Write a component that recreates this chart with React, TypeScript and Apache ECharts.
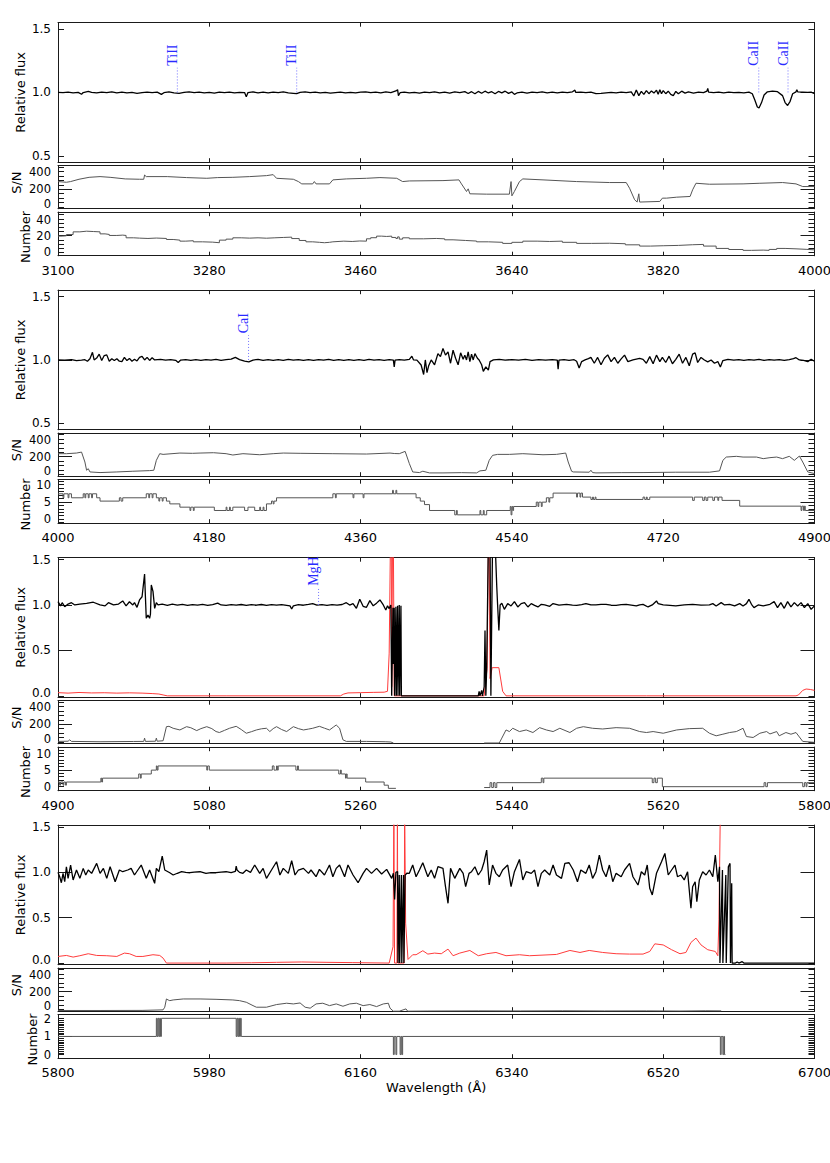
import React, { useEffect, useRef } from "react";
import * as echarts from "echarts";

// ---------------- axis ticks / labels ----------------
const PANEL_X: number[][] = [[3100, 4000], [4000, 4900], [4900, 5800], [5800, 6700]];
const X_TICKS: number[][] = [
  [3100, 3280, 3460, 3640, 3820, 4000],
  [4000, 4180, 4360, 4540, 4720, 4900],
  [4900, 5080, 5260, 5440, 5620, 5800],
  [5800, 5980, 6160, 6340, 6520, 6700],
];
const FLUX_LABELS_UPPER = [0.5, 1.0, 1.5];
const FLUX_LABELS_LOWER = [0.0, 0.5, 1.0, 1.5];
const SN_LABELS = [0, 200, 400];
const NUM_LABELS: number[][] = [[0, 20, 40], [0, 5, 10], [0, 5, 10], [0, 1, 2]];

// ---------------- line identifications ----------------
const LINE_IDS = [
  { name: "TiII", wl: 3242, panel: 0 },
  { name: "TiII", wl: 3384, panel: 0 },
  { name: "CaII", wl: 3933.7, panel: 0 },
  { name: "CaII", wl: 3968.5, panel: 0 },
  { name: "CaI", wl: 4226.7, panel: 1 },
  { name: "MgH", wl: 5210, panel: 2 },
];

// ---------------- panel 1 : 3100-4000 ----------------
const flux1: any[] = [
  [3100,1.0],[3106,0.998],[3112,1.002],[3118,0.997],[3124,1.001],[3128,0.986],[3130,0.999],[3136,1.008],[3140,1.0],[3146,0.996],[3152,1.003],[3158,0.998],[3164,1.005],[3170,0.997],[3176,1.002],[3182,0.996],[3188,1.0],[3194,0.993],[3200,0.999],[3206,1.003],[3212,0.998],[3218,1.002],[3223,0.985],[3226,0.998],[3232,1.004],[3238,0.996],[3244,0.993],[3250,1.0],[3256,1.005],[3262,0.998],[3268,1.003],[3274,0.997],[3280,1.001],[3286,0.995],[3292,1.003],[3298,0.998],[3304,1.002],[3310,0.996],[3316,1.001],[3322,0.999],[3324,0.965],[3326,0.999],[3332,1.004],[3338,0.997],[3344,1.002],[3350,0.996],[3356,1.003],[3362,0.999],[3368,1.004],[3374,0.997],[3380,0.993],[3384,0.99],[3388,1.0],[3394,1.005],[3400,0.998],[3406,1.002],[3412,0.996],[3418,1.0],[3424,0.995],[3430,0.999],[3436,1.003],[3442,0.997],[3448,1.001],[3454,0.996],[3460,1.002],[3466,1.005],[3472,0.998],[3478,1.003],[3484,0.997],[3490,1.004],[3496,0.998],[3502,1.012],[3504,1.022],[3505,0.975],[3507,0.998],[3512,1.003],[3518,0.997],[3524,1.001],[3530,0.995],[3536,1.003],[3542,0.998],[3548,1.004],[3554,0.997],[3560,1.002],[3566,0.995],[3572,1.004],[3578,0.998],[3584,1.006],[3588,0.992],[3592,1.006],[3596,0.99],[3600,1.008],[3604,0.994],[3608,1.01],[3612,0.996],[3616,1.006],[3620,0.99],[3624,1.008],[3628,0.997],[3632,1.01],[3636,0.993],[3640,1.004],[3643,0.985],[3646,0.996],[3652,1.002],[3658,0.995],[3664,1.003],[3670,0.998],[3676,1.004],[3682,0.997],[3688,1.002],[3694,0.996],[3700,1.003],[3706,0.998],[3712,1.005],[3715,1.018],[3716,1.0],[3722,1.003],[3728,0.998],[3734,1.002],[3740,0.99],[3746,0.992],[3752,0.996],[3758,1.0],[3764,0.996],[3770,1.002],[3776,0.998],[3782,1.005],[3785,0.972],[3788,1.02],[3791,0.975],[3794,1.008],[3797,0.985],[3800,1.015],[3803,0.99],[3806,1.012],[3809,0.995],[3812,1.018],[3814,0.985],[3816,1.022],[3818,0.99],[3820,1.015],[3823,0.99],[3826,1.01],[3829,0.985],[3832,0.975],[3835,1.008],[3838,0.99],[3842,1.01],[3846,0.995],[3850,1.005],[3856,0.995],[3862,1.003],[3868,0.998],[3872,1.01],[3873,1.032],[3874,1.002],[3880,0.999],[3886,1.003],[3892,0.997],[3898,1.002],[3904,0.998],[3910,1.0],[3916,0.996],[3922,1.003],[3926,0.99],[3929,0.94],[3932,0.885],[3934,0.878],[3937,0.92],[3940,0.98],[3944,1.005],[3950,1.01],[3956,1.006],[3962,0.975],[3965,0.92],[3968,0.897],[3971,0.93],[3974,0.99],[3978,1.005],[3979,1.022],[3980,1.005],[3986,1.003],[3992,1.0],[3996,1.002],[4000,0.99],
];
const snr1: any[] = [
  [3100,286],[3110,278],[3115,286],[3125,312],[3137,334],[3150,342],[3162,334],[3180,316],[3197,312],[3202,312],[3203,360],[3205,342],[3230,342],[3253,331],[3277,323],[3290,331],[3308,334],[3328,342],[3348,353],[3356,364],[3360,323],[3380,312],[3386,286],[3390,260],[3403,260],[3405,286],[3407,260],[3423,260],[3427,305],[3443,316],[3467,323],[3483,331],[3503,323],[3510,286],[3518,293],[3558,297],[3577,305],[3580,260],[3586,174],[3588,204],[3590,148],[3610,144],[3637,144],[3639,286],[3640,125],[3643,175],[3649,286],[3653,316],[3677,305],[3717,286],[3756,275],[3776,275],[3780,211],[3786,81],[3789,55],[3791,148],[3792,55],[3816,62],[3819,99],[3824,99],[3836,110],[3852,118],[3855,193],[3859,267],[3875,256],[3915,260],[3935,267],[3962,275],[3978,260],[3986,230],[4000,230],
];
const num1: any[] = [
  [3100,19.4],[3105,19.8],[3110,21.3],[3118,24.5],[3126,25.3],[3134,24.9],[3142,24.5],[3150,22.1],[3156,21.4],[3161,20.2],[3170,20.6],[3177,20.2],[3181,17.4],[3190,17.0],[3197,16.6],[3207,17.1],[3217,16.6],[3229,15.4],[3237,14.6],[3245,13.4],[3252,13.9],[3261,12.6],[3272,12.2],[3284,11.5],[3292,14.6],[3300,15.8],[3308,17.4],[3318,17.0],[3328,17.4],[3338,16.9],[3348,17.4],[3358,17.8],[3368,18.2],[3378,16.5],[3387,14.2],[3395,12.6],[3403,12.0],[3411,11.5],[3417,12.0],[3423,12.6],[3427,13.4],[3440,13.0],[3450,13.6],[3459,13.4],[3467,16.2],[3472,17.5],[3479,19.4],[3485,19.0],[3491,19.4],[3497,17.8],[3502,16.6],[3504,18.5],[3506,15.8],[3510,17.4],[3518,16.2],[3535,16.6],[3550,16.2],[3560,15.0],[3570,14.2],[3585,13.5],[3598,12.6],[3612,12.0],[3629,10.7],[3640,12.0],[3653,13.4],[3670,13.0],[3685,13.4],[3700,12.0],[3717,10.7],[3735,10.9],[3756,10.3],[3775,9.0],[3792,7.5],[3805,7.9],[3820,8.3],[3838,9.1],[3855,9.5],[3868,7.5],[3883,4.7],[3898,3.4],[3915,2.4],[3925,2.7],[3939,2.4],[3946,3.5],[3955,4.7],[3965,4.2],[3978,3.6],[3990,3.0],[4000,2.4],
];

// ---------------- panel 2 : 4000-4900 ----------------
const flux2: any[] = [
  [4000,1.0],[4008,0.998],[4016,1.002],[4022,0.994],[4028,0.998],[4032,1.002],[4035,0.99],[4038,1.01],[4041,1.06],[4043,1.0],[4046,1.015],[4049,1.046],[4052,0.996],[4055,1.035],[4058,1.04],[4061,0.99],[4064,1.01],[4067,0.995],[4070,1.01],[4073,0.99],[4076,0.987],[4079,1.02],[4082,0.995],[4085,1.012],[4088,0.99],[4091,1.005],[4094,0.992],[4097,1.02],[4100,1.028],[4103,1.0],[4106,1.02],[4109,0.996],[4112,1.018],[4115,1.0],[4122,1.004],[4128,0.998],[4134,1.003],[4140,0.997],[4143,0.98],[4146,0.999],[4152,1.003],[4158,0.997],[4164,1.002],[4170,0.996],[4176,1.003],[4182,0.998],[4188,1.004],[4194,0.996],[4200,1.002],[4206,1.006],[4211,1.02],[4216,1.003],[4222,0.99],[4227,0.985],[4232,0.999],[4238,1.004],[4244,0.997],[4250,1.003],[4256,0.996],[4262,1.002],[4268,0.997],[4274,1.004],[4280,0.998],[4286,1.003],[4292,0.996],[4298,1.002],[4304,0.997],[4310,1.003],[4316,0.998],[4322,1.005],[4328,0.997],[4334,1.002],[4340,0.996],[4346,1.003],[4352,0.997],[4358,1.002],[4364,0.996],[4370,1.004],[4376,0.998],[4382,1.002],[4388,0.997],[4394,1.003],[4399,0.998],[4400,0.945],[4401,0.998],[4406,1.003],[4412,0.998],[4418,1.004],[4421,1.03],[4423,1.0],
  [4427,0.999],[4432,0.96],[4435,0.885],[4437,1.0],[4439,0.9],[4441,0.955],[4444,1.0],[4448,0.962],[4452,1.05],[4455,1.026],[4458,1.09],[4461,1.038],[4464,1.064],[4467,0.974],[4470,1.077],[4473,1.013],[4476,0.962],[4479,1.056],[4482,1.005],[4484,1.038],[4486,1.0],[4488,1.064],[4490,0.987],[4492,1.046],[4494,1.0],[4496,1.05],[4499,1.013],[4501,1.0],[4504,0.962],[4506,0.91],[4509,0.945],[4512,0.92],[4514,0.987],[4518,1.0],[4525,1.004],[4532,0.998],[4540,1.003],[4548,0.998],[4556,1.004],[4564,0.997],[4572,1.003],[4580,0.999],[4588,1.002],[4594,0.999],[4595,0.928],[4596,0.999],[4602,1.003],[4608,0.997],[4614,1.002],[4617,0.99],[4620,0.936],[4623,0.987],[4627,1.0],[4631,1.01],[4634,1.02],[4638,0.974],[4642,1.02],[4646,0.962],[4650,1.013],[4654,1.04],[4658,0.987],[4662,1.02],[4666,0.974],[4670,1.008],[4674,1.038],[4678,0.987],[4684,1.0],[4692,1.013],[4696,1.005],[4700,0.974],[4704,1.026],[4708,0.97],[4712,1.038],[4716,0.987],[4719,1.02],[4723,0.98],[4727,1.03],[4731,0.97],[4735,1.005],[4739,1.046],[4743,0.974],[4747,1.02],[4751,0.954],[4755,1.046],[4758,1.056],[4761,0.98],[4765,1.02],[4769,1.0],[4773,0.985],[4777,1.0],[4781,0.974],[4785,0.987],[4788,0.944],[4791,0.995],[4797,1.005],[4804,0.998],[4810,1.003],[4816,0.997],[4822,1.002],[4828,0.998],[4834,1.004],[4840,0.997],[4846,1.002],[4852,0.998],[4858,1.003],[4864,0.996],[4870,1.003],[4875,1.01],[4878,1.018],[4882,1.0],[4887,0.997],[4892,0.987],[4896,1.005],[4900,0.99],
];
const snr2: any[] = [
  [4000,234],[4010,234],[4022,241],[4028,252],[4032,140],[4034,47],[4036,65],[4038,28],[4050,21],[4070,28],[4089,36],[4109,43],[4114,47],[4117,159],[4121,234],[4125,226],[4145,241],[4160,238],[4169,241],[4185,245],[4200,234],[4208,219],[4220,234],[4240,222],[4256,234],[4268,241],[4288,238],[4327,234],[4367,230],[4395,241],[4400,236],[4406,234],[4413,260],[4418,122],[4422,28],[4430,21],
  [4434,36],[4442,17],[4458,17],[4480,20],[4498,17],[4502,40],[4509,47],[4513,159],[4517,215],[4523,226],[4537,226],[4553,234],[4577,222],[4593,226],[4604,241],[4607,140],[4611,36],[4613,28],[4632,25],[4634,47],[4636,21],[4640,17],[4670,20],[4696,21],[4735,25],[4775,25],[4787,40],[4791,159],[4795,196],[4807,204],[4815,196],[4831,196],[4839,178],[4847,189],[4855,196],[4862,178],[4870,204],[4876,159],[4882,207],[4886,140],[4892,28],[4900,10],
];
const num2: any[] = [
  [4000,7.3],[4006,6.15],[4007,7.3],[4012,6.15],[4013,7.3],[4016,6.15],[4030,7.3],[4032,6.15],[4033,7.3],[4036,6.15],[4037,7.3],[4040,6.15],[4041,7.3],[4046,6.15],[4050,5.2],[4073,6.15],[4075,5.2],[4077,6.15],[4105,7.3],[4108,6.15],[4109,7.3],[4112,6.15],[4113,7.3],[4117,6.15],[4120,5.2],[4121,6.15],[4124,5.2],[4125,6.15],[4129,5.2],[4133,4.4],[4145,3.46],[4157,2.5],[4158,3.46],[4161,2.5],[4162,3.46],[4186,2.5],[4200,3.46],[4201,2.5],[4204,3.46],[4205,2.5],[4208,3.46],[4222,2.5],[4226,3.46],[4234,2.5],[4240,3.46],[4241,2.5],[4244,3.46],[4245,2.5],[4248,4.4],[4254,5.2],[4256,4.4],[4257,5.2],[4260,6.15],[4327,7.3],[4330,6.15],[4331,7.3],[4351,6.15],[4352,7.3],[4363,6.15],[4364,7.3],[4398,8.3],[4399,7.3],[4402,8.3],[4403,7.3],[4426,6.15],[4431,5.2],[4436,4.2],[4442,2.5],
  [4472,1.25],[4474,2.5],[4475,1.25],[4502,2.5],[4503,1.25],[4506,2.5],[4507,1.25],[4510,2.5],[4538,3.65],[4539,1.25],[4540,3.65],[4541,2.5],[4542,3.65],[4569,4.9],[4571,3.65],[4572,4.9],[4575,3.65],[4576,4.9],[4581,6.15],[4584,4.9],[4585,6.15],[4589,7.5],[4617,6.35],[4618,7.5],[4621,6.35],[4622,7.5],[4624,6.35],[4634,5.67],[4636,6.35],[4637,5.67],[4639,6.35],[4640,5.67],[4696,6.35],[4698,5.67],[4700,6.35],[4701,5.67],[4704,6.35],[4755,5.4],[4757,6.35],[4767,5.4],[4769,6.35],[4771,5.4],[4773,6.35],[4779,5.4],[4781,6.35],[4785,5.4],[4786,6.35],[4790,5.4],[4811,3.75],[4884,2.5],[4885,3.75],[4887,2.5],[4888,3.75],[4889,2.5],[4900,2.5],
];

// ---------------- panel 3 : 4900-5800 ----------------
const flux3: any[] = [
  [4900,1.037],[4903,0.99],[4905,1.025],[4908,0.98],[4912,1.01],[4916,1.025],[4920,1.0],[4926,1.01],[4934,1.018],[4942,1.03],[4950,1.0],[4956,0.99],[4960,1.025],[4966,1.0],[4972,1.01],[4977,1.044],[4981,0.99],[4985,1.035],[4989,1.0],[4991,1.025],[4994,0.974],[4997,1.055],[5000,1.09],[5003,1.34],[5004,1.09],[5005,0.853],[5007,0.89],[5009,0.853],[5010,0.9],[5011,1.22],[5013,1.15],[5015,0.963],[5017,1.025],[5019,1.0],[5024,1.01],[5030,0.995],[5036,1.008],[5042,0.997],[5048,1.006],[5054,0.995],[5060,1.004],[5066,0.998],[5072,1.006],[5078,0.996],[5084,1.004],[5090,1.02],[5094,1.0],[5100,0.996],[5106,1.004],[5112,0.998],[5118,1.005],[5124,0.996],[5130,1.003],[5136,0.997],[5142,1.005],[5148,0.995],[5154,1.003],[5160,0.998],[5166,1.004],[5172,0.996],[5176,0.99],[5178,0.956],[5180,0.99],[5186,1.003],[5192,0.997],[5198,1.006],[5203,1.015],[5208,0.998],[5214,1.004],[5220,0.996],[5226,1.003],[5232,0.998],[5238,1.005],[5243,1.025],[5247,0.999],[5251,1.015],[5255,0.963],[5259,1.062],[5263,0.985],[5267,0.974],[5271,1.048],[5275,0.99],[5279,1.02],[5283,1.055],[5287,1.0],[5290,0.945],[5292,0.99],[5294,0.96],[5296,1.0],[5297,0.0],[5298.5,0.97],[5299,0.35],[5300,0.97],[5300.5,0.0],[5302,0.98],[5302.5,0.0],[5304,0.99],[5304.5,0.0],[5306,1.0],[5306.5,0.0],[5308,0.99],[5308.5,0.0],[5310,0.0],[5400,0.0],[5401,0.05],[5402,0.0],[5404,0.06],[5405,0.0],[5407,0.1],[5408,0.72],[5409,0.0],[5410,0.3],[5412,1.7],[5414,1.7],[5415,0.0],[5417,1.7],[5420,1.7],[5422,1.2],[5423,1.0],[5424.5,0.72],[5426,1.0],[5428,1.02],
  [5431,0.952],[5435,1.015],[5439,0.989],[5443,1.037],[5447,0.978],[5451,1.015],[5455,1.026],[5459,0.978],[5463,1.015],[5467,0.996],[5471,0.978],[5475,1.007],[5479,1.0],[5485,0.985],[5489,1.015],[5496,0.998],[5505,1.007],[5512,0.998],[5517,0.996],[5523,1.004],[5528,1.015],[5534,1.0],[5540,1.0],[5546,1.006],[5552,1.007],[5558,0.997],[5564,0.996],[5570,1.004],[5576,1.007],[5582,0.998],[5588,0.989],[5592,1.002],[5596,1.007],[5602,0.978],[5607,1.0],[5612,1.044],[5614,1.015],[5620,1.0],[5628,0.995],[5635,0.989],[5645,1.0],[5655,1.007],[5665,0.998],[5675,1.0],[5679,1.015],[5683,0.989],[5689,1.026],[5693,1.0],[5699,1.007],[5705,0.989],[5711,1.015],[5715,0.989],[5719,1.015],[5722,1.062],[5725,1.007],[5728,0.971],[5733,1.0],[5739,0.989],[5747,1.007],[5752,1.037],[5756,0.971],[5760,1.026],[5764,0.963],[5768,1.037],[5772,0.978],[5776,1.026],[5780,0.989],[5784,1.026],[5788,0.971],[5792,1.015],[5796,0.952],[5800,0.99],
];
const err3: any[] = [
  [4900,0.035],[4912,0.03],[4925,0.037],[4940,0.032],[4955,0.034],[4970,0.03],[4985,0.033],[5000,0.03],[5012,0.025],[5020,0.02],[5026,0.008],[5030,0.0],[5100,0.0],[5236,0.0],[5240,0.02],[5245,0.032],[5260,0.035],[5275,0.038],[5288,0.04],[5292,0.05],[5294,0.47],[5295.5,1.7],[5296.5,1.7],[5297,0.1],[5298,1.7],[5299,1.7],[5300,0.0],[5407,0.0],[5410.5,0.3],[5412,1.7],[5413,1.7],[5414,0.19],[5416.5,0.31],[5424.5,0.31],[5429,0.05],[5433,0.0],[5600,0.0],[5778,0.0],[5781,0.01],[5786,0.06],[5790,0.075],[5795,0.07],[5800,0.06],
];
const snr3: any[] = [
  [4900,6],[4912,8],[4914,24],[4916,6],[4950,2],[4990,5],[5002,6],[5003,43],[5004,6],[5016,8],[5017,43],[5018,8],[5025,13],[5029,172],[5032,176],[5037,154],[5045,135],[5053,172],[5058,160],[5065,128],[5070,150],[5077,172],[5083,150],[5088,117],[5092,106],[5098,130],[5104,154],[5112,176],[5118,140],[5124,98],[5130,115],[5136,135],[5142,148],[5148,154],[5152,117],[5156,150],[5160,172],[5166,140],[5172,117],[5176,145],[5180,172],[5186,150],[5192,135],[5198,145],[5203,154],[5211,176],[5217,155],[5223,135],[5228,170],[5231,191],[5235,154],[5239,24],[5243,6],[5267,6],[5290,2],[5296,-1],[5299,-12],
  null,
  [5407,-12],[5425,-12],[5428,43],[5433,135],[5437,117],[5441,154],[5449,117],[5457,135],[5465,106],[5473,161],[5481,135],[5489,117],[5497,154],[5509,106],[5517,154],[5525,172],[5536,154],[5548,146],[5564,161],[5580,154],[5592,117],[5600,106],[5608,117],[5620,98],[5636,135],[5651,150],[5667,154],[5675,98],[5683,69],[5691,87],[5699,106],[5707,117],[5715,154],[5719,61],[5727,50],[5735,98],[5743,117],[5747,90],[5755,117],[5758,69],[5766,106],[5772,87],[5778,106],[5786,6],[5800,-5],
];
const num3: any[] = [
  [4900,1.4],[4902,0.45],[4903,1.4],[4906,0.45],[4907,1.4],[4909,0.45],[4910,1.4],[4951,2.55],[4952,1.4],[4953,2.55],[4996,3.8],[4998,2.55],[4999,3.8],[5011,4.95],[5017,6.2],[5018,4.95],[5019,6.2],[5077,4.95],[5078,6.2],[5080,4.95],[5155,6.2],[5157,4.95],[5160,6.2],[5161,4.95],[5162,6.2],[5183,4.95],[5185,6.2],[5186,4.95],[5234,3.8],[5236,4.95],[5237,3.8],[5242,2.55],[5243,3.8],[5244,2.55],[5266,1.4],[5288,0.45],[5293,-0.5],[5302,-0.5],
  null,
  [5407,-0.25],[5414,1.2],[5416,-0.25],[5418,1.2],[5420,-0.25],[5422,1.2],[5475,2.55],[5477,1.2],[5478,2.55],[5607,1.2],[5609,2.55],[5611,1.2],[5613,2.55],[5619,0],[5740,1.2],[5742,0],[5744,1.2],[5786,0],[5788,1.2],[5790,0],[5791,1.2],[5800,1.2],
];

// ---------------- panel 4 : 5800-6700 ----------------
const flux4: any[] = [
  [5800,1.0],[5802,0.952],[5804,0.886],[5806,0.989],[5808,0.897],[5810,1.062],[5812,0.934],[5815,1.081],[5818,0.916],[5822,1.026],[5826,0.934],[5830,1.044],[5833,0.971],[5836,1.026],[5840,0.989],[5846,1.099],[5850,0.989],[5854,1.044],[5858,0.934],[5862,1.062],[5868,0.897],[5873,1.026],[5877,1.007],[5883,1.026],[5887,1.044],[5891,0.971],[5895,1.026],[5899,1.081],[5905,0.934],[5909,1.026],[5915,0.879],[5917,1.044],[5920,1.007],[5924,1.18],[5927,1.026],[5933,0.996],[5937,0.971],[5942,0.99],[5947,1.007],[5952,1.0],[5957,0.996],[5962,1.003],[5969,1.007],[5976,0.989],[5982,0.998],[5988,0.996],[5994,1.003],[6000,1.007],[6006,0.998],[6011,1.01],[6012,1.07],[6013,1.026],[6016,1.0],[6020,0.99],[6024,1.026],[6029,1.0],[6034,1.081],[6040,0.989],[6044,1.044],[6048,0.934],[6054,1.026],[6060,1.117],[6064,0.971],[6068,1.044],[6074,0.989],[6078,1.128],[6082,0.971],[6086,1.026],[6092,1.044],[6098,0.989],[6101,1.026],[6107,0.952],[6111,1.033],[6117,0.971],[6123,1.081],[6127,0.952],[6131,1.044],[6135,1.081],[6141,0.952],[6145,1.081],[6151,0.971],[6157,0.886],[6163,0.989],[6167,1.044],[6173,0.989],[6179,1.044],[6185,0.982],[6191,1.033],[6197,0.934],
  [6199,0.99],[6200.5,0.7],[6202,1.0],[6204,1.01],[6204.5,0.0],[6206,0.97],[6206.5,0.0],[6208.5,0.97],[6209,0.0],[6211,0.97],[6211.5,0.0],[6213,0.97],[6215,0.99],
  [6218,0.989],[6222,1.081],[6226,0.952],[6230,1.026],[6234,1.106],[6240,0.952],[6244,1.026],[6248,0.934],[6252,1.062],[6258,1.044],[6261,0.842],[6264,0.659],[6267,1.044],[6272,0.934],[6278,1.044],[6282,0.989],[6285,0.842],[6289,0.989],[6292,1.007],[6296,1.062],[6300,0.971],[6304,1.026],[6307,1.117],[6310,1.245],[6313,0.861],[6317,1.081],[6321,0.989],[6325,0.952],[6329,1.026],[6335,1.081],[6339,0.842],[6343,1.007],[6349,1.143],[6353,0.916],[6357,1.007],[6363,0.989],[6367,1.026],[6371,0.842],[6375,0.989],[6379,1.026],[6385,0.971],[6389,1.081],[6393,0.971],[6399,0.934],[6403,1.099],[6408,1.106],[6413,1.026],[6418,0.897],[6422,1.026],[6428,0.989],[6432,1.081],[6436,0.934],[6440,1.007],[6444,1.19],[6448,1.026],[6452,0.952],[6456,1.081],[6460,0.897],[6464,0.989],[6470,0.952],[6474,1.026],[6480,1.099],[6484,0.952],[6490,0.861],[6494,1.007],[6498,0.971],[6501,1.081],[6504,0.824],[6507,0.751],[6512,0.989],[6518,1.117],[6522,1.209],[6526,0.971],[6530,1.026],[6534,1.081],[6537,0.952],[6541,0.971],[6545,0.916],[6549,1.007],[6553,0.604],[6555,0.842],[6558,0.897],[6560,0.678],[6563,0.916],[6567,1.007],[6571,0.971],[6575,1.026],[6579,0.952],[6582,1.19],[6585,0.897],
  [6587,1.062],[6587.5,0.0],[6590.5,1.026],[6591,0.0],[6594.5,0.971],[6595,0.0],[6597.5,1.062],[6599.5,1.099],[6600,0.0],[6601.5,0.879],[6602,0.0],[6606,0.0],[6608,0.012],[6610,0.0],[6614,0.015],[6616,0.0],[6700,0.0],
];
const err4: any[] = [
  [5800,0.073],[5810,0.084],[5818,0.066],[5826,0.081],[5836,0.103],[5846,0.084],[5858,0.081],[5870,0.073],[5879,0.11],[5885,0.103],[5893,0.073],[5901,0.073],[5913,0.092],[5921,0.084],[5925,0.055],[5929,0.0],[6000,0.0],[6030,0.003],[6060,0.008],[6090,0.012],[6120,0.008],[6150,0.005],[6194,0.0],[6198.6,0.18],[6199.6,1.7],[6200.4,0.0],[6203.2,0.0],[6203.8,1.7],[6204.3,0.0],[6211.8,0.0],[6212.4,1.7],[6213.6,0.44],[6216.4,0.04],[6222,0.092],[6226,0.092],[6234,0.136],[6240,0.099],[6248,0.11],[6256,0.103],[6264,0.154],[6270,0.081],[6278,0.11],[6290,0.139],[6300,0.081],[6310,0.103],[6321,0.117],[6333,0.081],[6349,0.092],[6361,0.081],[6377,0.088],[6393,0.095],[6409,0.139],[6421,0.117],[6432,0.139],[6448,0.117],[6464,0.103],[6480,0.099],[6496,0.099],[6504,0.128],[6510,0.212],[6520,0.2],[6530,0.147],[6540,0.103],[6547,0.117],[6553,0.227],[6559,0.275],[6565,0.2],[6573,0.147],[6582,0.128],[6585,0.081],[6586.3,0.476],[6588,1.7],
];
const snr4: any[] = [
  [5800,-12],[5850,-12],[5900,-11],[5925,-5],[5927,25],[5929,118],[5931,107],[5933,99],[5937,107],[5949,118],[5969,118],[5988,114],[6008,107],[6016,99],[6024,81],[6032,43],[6036,25],[6048,25],[6060,55],[6072,70],[6080,62],[6088,73],[6094,25],[6100,14],[6107,62],[6115,70],[6123,43],[6131,62],[6139,36],[6147,62],[6155,70],[6163,43],[6171,55],[6179,32],[6187,62],[6193,70],[6195,14],[6199,-20],[6206,-20],[6214,6],[6216,-20],[6240,-18],[6300,-16],[6350,-17],[6400,-15],[6450,-17],[6500,-16],[6540,-18],[6570,-15],[6589,-16],
];
const num4: any[] = [
  [5800,1],[5917,2],[5918,1],[5919,2],[5920,1],[5921,2],[5922,1],[5923,2],[6012,1],[6013,2],[6014,1],[6015,2],[6016,1],[6017,2],[6018,1],[6199,0],[6200,1],[6202,0],[6203,1],[6207,0],[6208,1],[6209,0],[6210,1],[6588,0],[6589,1],[6591,0],[6592,1],[6593,0],[6594,0],
];

// ---------------- layout / style ----------------
const W = 830;
const H = 1163;
const PLOT_LEFT = 58;
const PLOT_W = 756.5;
const PANEL_TOP0 = 22.7;
const PANEL_STEP = 267.5;
const SUBS = [
  { off: 0, h: 139.5 },
  { off: 143, h: 43 },
  { off: 189.5, h: 43.5 },
];
const FONT = '"DejaVu Sans", "Liberation Sans", sans-serif';
const FRAME = "#1a1a1a";
const LABEL_LINE_BOTTOM = 1.0;
const LABEL_LINE_TOP = 1.195;
const LABEL_TEXT_START = 1.21;

const PANELS = [
  { flux: flux1, err: null, snr: snr1, num: num1, fluxRange: [0.45, 1.55], upper: true, numRange: [-4, 48] },
  { flux: flux2, err: null, snr: snr2, num: num2, fluxRange: [0.45, 1.55], upper: true, numRange: [-1.15, 11.35] },
  { flux: flux3, err: err3, snr: snr3, num: num3, fluxRange: [-0.015, 1.52], upper: false, numRange: [-1.2, 11.8] },
  { flux: flux4, err: err4, snr: snr4, num: num4, fluxRange: [-0.018, 1.52], upper: false, numRange: [-0.2, 2.2] },
];

function segments(arr: any[]): any[][] {
  const out: any[][] = [];
  let cur: any[] = [];
  for (const p of arr) {
    if (p === null) {
      if (cur.length) out.push(cur);
      cur = [];
    } else cur.push(p);
  }
  if (cur.length) out.push(cur);
  return out;
}

function range(a: number, b: number, step: number): number[] {
  const r: number[] = [];
  const n = Math.round((b - a) / step);
  for (let i = 0; i <= n; i++) r.push(Math.round((a + i * step) * 1000) / 1000);
  return r;
}

// formatter that nudges the lowest label up and the highest label down a little
function edgeFmt(lo: number, hi: number, dec: number) {
  return (v: number) => {
    const s = dec > 0 ? v.toFixed(dec) : String(v);
    if (Math.abs(v - lo) < 1e-9) return "{lo|" + s + "}";
    if (Math.abs(v - hi) < 1e-9) return "{hi|" + s + "}";
    return s;
  };
}

function tickSets(pi: number, si: number) {
  if (si === 0) {
    if (PANELS[pi].upper) return { short: [0.5, 1.5], long: [1.0], labels: FLUX_LABELS_UPPER, fmt: edgeFmt(-99, 99, 1), size: 12 };
    return { short: [0.0, 1.5], long: [0.5, 1.0], labels: FLUX_LABELS_LOWER, fmt: edgeFmt(0, 99, 1), size: 12 };
  }
  if (si === 1) {
    return { short: range(0, 450, 50).filter((v) => v !== 200), long: [200], labels: SN_LABELS, fmt: edgeFmt(0, 400, 0), size: 11.5 };
  }
  const labs = NUM_LABELS[pi];
  const f = edgeFmt(-99, labs[2], 0);
  if (pi === 0) return { short: range(0, 45, 5).filter((v) => v !== 20), long: [20], labels: labs, fmt: f, size: 11.5 };
  if (pi === 3) return { short: range(0, 2, 0.1).filter((v) => v !== 1), long: [1], labels: labs, fmt: f, size: 11.5 };
  return { short: range(-1, 11, 1).filter((v) => v !== 5), long: [5], labels: labs, fmt: f, size: 11.5 };
}

function yAx(gi: number, pos: string, min: number, max: number, ticks: number[], len: number, labels: any, fmt: any, size?: number, name?: string, nameGap?: number, namePad?: any) {
  const fs = size || 12;
  return {
    type: "value",
    gridIndex: gi,
    position: pos,
    min,
    max,
    axisLine: { show: true, onZero: false, lineStyle: { color: FRAME, width: 1 } },
    axisTick: { show: true, inside: true, length: len, customValues: ticks, lineStyle: { color: FRAME, width: 1 } },
    axisLabel: labels
      ? {
          show: true,
          customValues: labels,
          formatter: fmt,
          margin: 7,
          color: "#000",
          fontFamily: FONT,
          fontSize: fs,
          lineHeight: 10,
          rich: {
            lo: { padding: [0, 0, 6, 0], color: "#000", fontFamily: FONT, fontSize: fs, lineHeight: 10 },
            hi: { padding: [2, 0, 0, 0], color: "#000", fontFamily: FONT, fontSize: fs, lineHeight: 10 },
          },
        }
      : { show: false },
    splitLine: { show: false },
    minorTick: { show: false },
    name: name || "",
    nameLocation: "middle",
    nameGap: nameGap || 0,
    nameRotate: 90,
    nameMoveOverlap: false,
    nameTextStyle: { color: "#000", fontFamily: FONT, fontSize: 13, padding: namePad || 0 },
  };
}

function xAx(gi: number, pos: string, pi: number, showLabels: boolean, name?: string) {
  return {
    type: "value",
    gridIndex: gi,
    position: pos,
    min: PANEL_X[pi][0],
    max: PANEL_X[pi][1],
    axisLine: { show: true, onZero: false, lineStyle: { color: FRAME, width: 1 } },
    axisTick: { show: true, inside: true, length: 4, customValues: X_TICKS[pi], lineStyle: { color: FRAME, width: 1 } },
    axisLabel: showLabels
      ? { show: true, customValues: X_TICKS[pi], formatter: (v: number) => String(v), margin: 8, color: "#000", fontFamily: FONT, fontSize: 13 }
      : { show: false },
    splitLine: { show: false },
    name: name || "",
    nameLocation: "middle",
    nameGap: 23,
    nameMoveOverlap: false,
    nameTextStyle: { color: "#000", fontFamily: FONT, fontSize: 13 },
  };
}

function buildOption() {
  const grids: any[] = [];
  const xAxes: any[] = [];
  const yAxes: any[] = [];
  const series: any[] = [];

  PANELS.forEach((P, pi) => {
    const top0 = PANEL_TOP0 + pi * PANEL_STEP;
    SUBS.forEach((S, si) => {
      const gi = grids.length;
      grids.push({ left: PLOT_LEFT, width: PLOT_W, top: top0 + S.off, height: S.h, containLabel: false, outerBoundsMode: "none" });
      const xb = xAxes.length;
      xAxes.push(xAx(gi, "bottom", pi, si === 2, pi === 3 && si === 2 ? "Wavelength (\u00c5)" : ""));
      xAxes.push(xAx(gi, "top", pi, false));

      const rng = si === 0 ? P.fluxRange : si === 1 ? [-20, 465] : P.numRange;
      const ts = tickSets(pi, si);
      let name = "";
      let gap = 31.5;
      let pad: any = 0;
      if (si === 0) { name = "Relative flux"; gap = 31.5; }
      else if (si === 1) { name = "S/N"; gap = 35; pad = [0, 0, 0, 9]; }
      else { name = "Number"; gap = pi === 3 ? 19 : 26; pad = [0, 6, 0, 0]; }

      const yb = yAxes.length;
      yAxes.push(yAx(gi, "left", rng[0], rng[1], ts.short, 6, ts.labels, ts.fmt, ts.size, name, gap, pad));
      yAxes.push(yAx(gi, "left", rng[0], rng[1], ts.long, 14, null, null));
      yAxes.push(yAx(gi, "right", rng[0], rng[1], ts.short, 6, null, null));
      yAxes.push(yAx(gi, "right", rng[0], rng[1], ts.long, 14, null, null));

      if (si === 0) {
        if (P.err) {
          segments(P.err).forEach((seg) =>
            series.push({ type: "line", xAxisIndex: xb, yAxisIndex: yb, data: seg, symbol: "none", showSymbol: false, silent: true, clip: true, lineStyle: { color: "#ff3b3b", width: 1 }, z: 2 })
          );
        }
        segments(P.flux).forEach((seg) =>
          series.push({ type: "line", xAxisIndex: xb, yAxisIndex: yb, data: seg, symbol: "none", showSymbol: false, silent: true, clip: true, lineStyle: { color: "#000", width: 1.3 }, z: 3 })
        );
        const labs = LINE_IDS.filter((l) => l.panel === pi);
        if (labs.length) {
          series.push({
            type: "custom",
            xAxisIndex: xb,
            yAxisIndex: yb,
            silent: true,
            z: 5,
            data: labs.map((l) => [l.wl, LABEL_LINE_BOTTOM]),
            renderItem: (params: any, api: any) => {
              const lab = labs[params.dataIndex];
              const wl = api.value(0);
              const p0 = api.coord([wl, LABEL_LINE_BOTTOM]);
              const p1 = api.coord([wl, LABEL_LINE_TOP]);
              const p2 = api.coord([wl, LABEL_TEXT_START]);
              return {
                type: "group",
                children: [
                  { type: "line", shape: { x1: p0[0], y1: p0[1], x2: p1[0], y2: p1[1] }, style: { stroke: "#7373ff", lineWidth: 1, lineDash: [1, 2] } },
                  {
                    type: "text",
                    x: p2[0] + 2,
                    y: p2[1],
                    rotation: Math.PI / 2,
                    style: { text: lab.name, fill: "#2a2aff", font: '14px "Liberation Serif", "DejaVu Serif", serif', align: "left", verticalAlign: "bottom", textAlign: "left", textVerticalAlign: "bottom" },
                  },
                ],
              };
            },
          });
        }
      } else if (si === 1) {
        segments(P.snr).forEach((seg) =>
          series.push({ type: "line", xAxisIndex: xb, yAxisIndex: yb, data: seg, symbol: "none", showSymbol: false, silent: true, clip: true, lineStyle: { color: "#555", width: 1 } })
        );
      } else {
        segments(P.num).forEach((seg) =>
          series.push({ type: "line", step: "end", xAxisIndex: xb, yAxisIndex: yb, data: seg, symbol: "none", showSymbol: false, silent: true, clip: true, lineStyle: { color: "#555", width: 1 } })
        );
      }
    });
  });

  return {
    animation: false,
    backgroundColor: "#fff",
    textStyle: { fontFamily: FONT },
    grid: grids,
    xAxis: xAxes,
    yAxis: yAxes,
    series,
  };
}

export default function App() {
  const ref = useRef<HTMLDivElement>(null);
  useEffect(() => {
    if (!ref.current) return;
    const chart = echarts.init(ref.current, null, { renderer: "svg", width: W, height: H });
    chart.setOption(buildOption() as any);
    return () => chart.dispose();
  }, []);
  return <div ref={ref} style={{ position: "absolute", left: 0, top: 0, width: W, height: H, background: "#fff" }} />;
}
